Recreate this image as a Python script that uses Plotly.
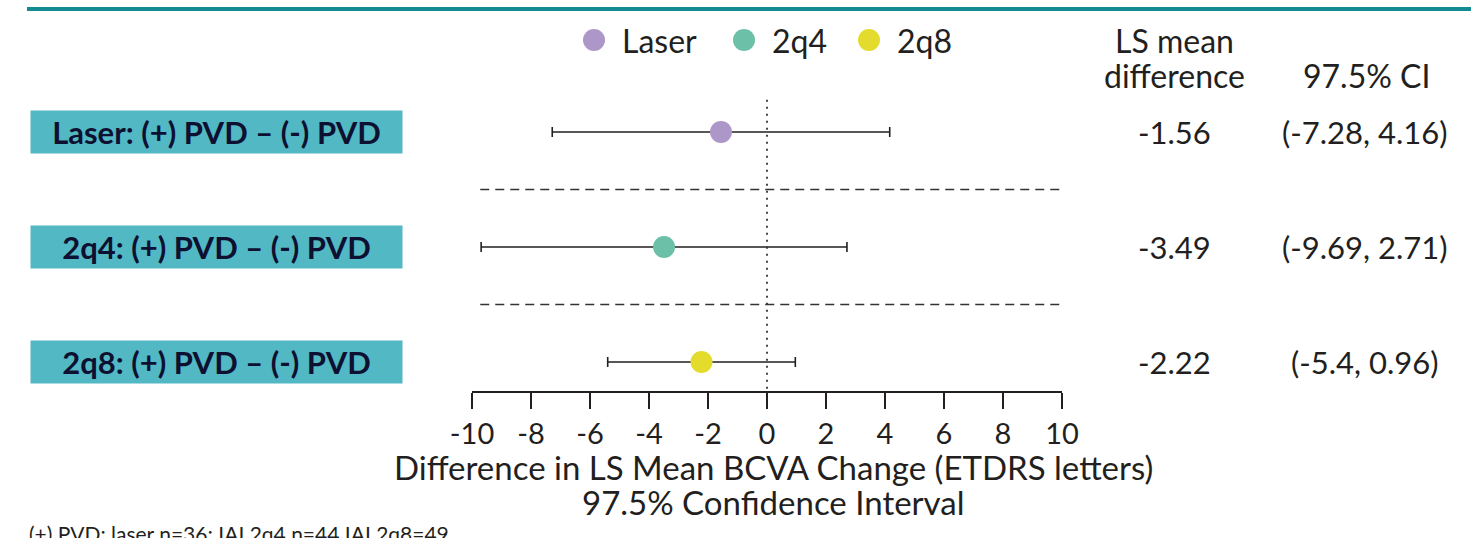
import plotly.graph_objects as go

# ---- data ----
groups = ["Laser", "2q4", "2q8"]
row_labels = ["Laser: (+) PVD – (-) PVD", "2q4: (+) PVD – (-) PVD", "2q8: (+) PVD – (-) PVD"]
ls_mean = [-1.56, -3.49, -2.22]
ci_low = [-7.28, -9.69, -5.4]
ci_high = [4.16, 2.71, 0.96]
ci_text = ["(-7.28, 4.16)", "(-9.69, 2.71)", "(-5.4, 0.96)"]
colors = ["#AD96C8", "#6CC0A8", "#E3DC2C"]
tick_vals = [-10, -8, -6, -4, -2, 0, 2, 4, 6, 8, 10]
footnote = "(+) PVD: laser n=36; IAI 2q4 n=44 IAI 2q8=49"

# ---- layout constants (pixels) ----
W, H = 1471, 538
FONT = "Lato"
TXT = "#231F20"
row_px0, row_step = 132, 115
axis_line_px = 392
legend_marker_px = [594, 744, 869]
legend_y_px = 40

rows = list(range(len(groups)))
y_top = -row_px0 / row_step
y_bot = (H - row_px0) / row_step


def py(px):
    return 1 - px / H


fig = go.Figure()
for i, g in enumerate(groups):
    fig.add_trace(go.Scatter(
        x=[ls_mean[i]], y=[rows[i]], mode="markers", name=g, showlegend=False,
        marker=dict(color=colors[i], size=22),
        error_x=dict(type="data", symmetric=False,
                     array=[ci_high[i] - ls_mean[i]],
                     arrayminus=[ls_mean[i] - ci_low[i]],
                     color="#231F20", thickness=1.6, width=5),
    ))

# custom legend markers on a full-page pixel-space axis pair
fig.add_trace(go.Scatter(
    x=legend_marker_px, y=[legend_y_px] * len(groups), mode="markers",
    marker=dict(color=colors, size=22), xaxis="x2", yaxis="y2",
    showlegend=False, hoverinfo="skip",
))

shapes = []
shapes.append(dict(type="line", xref="paper", yref="paper", x0=27 / W, x1=1, y0=py(9), y1=py(9),
                   line=dict(color="#128C90", width=4)))
for i in rows[:-1]:
    shapes.append(dict(type="line", xref="x", yref="y", x0=-9.72, x1=10, y0=i + 0.5, y1=i + 0.5,
                       line=dict(color="#333333", width=1.6, dash="9px,6px")))
shapes.append(dict(type="line", xref="x", yref="y", x0=0, x1=0, y0=-0.28,
                   y1=(axis_line_px - row_px0) / row_step,
                   line=dict(color="#333333", width=1.8, dash="2px,5px")))

annotations = []
for i in rows:
    annotations.append(dict(xref="paper", yref="y", x=30 / W, y=rows[i], xanchor="left", yanchor="middle",
                            text="<b>" + row_labels[i] + "</b>", showarrow=False,
                            bgcolor="#52B8C4", width=371, height=42, borderpad=0, align="center",
                            font=dict(family=FONT, size=31, color="#0D1030")))
    annotations.append(dict(xref="paper", yref="y", x=1174 / W, y=rows[i], xanchor="center", yanchor="middle",
                            text=f"{ls_mean[i]:.2f}", showarrow=False,
                            font=dict(family=FONT, size=31, color=TXT)))
    annotations.append(dict(xref="paper", yref="y", x=1365 / W, y=rows[i], xanchor="center", yanchor="middle",
                            text=ci_text[i], showarrow=False,
                            font=dict(family=FONT, size=31, color=TXT)))
# legend labels
for i, g in enumerate(groups):
    annotations.append(dict(xref="paper", yref="paper", x=(legend_marker_px[i] + 26) / W, y=py(legend_y_px),
                            xanchor="left", yanchor="middle", text=g, showarrow=False,
                            font=dict(family=FONT, size=32, color=TXT)))
# column headers
for txt, xpx, ypx in [("LS mean", 1174, 40), ("difference", 1174, 75), ("97.5% CI", 1366, 75)]:
    annotations.append(dict(xref="paper", yref="paper", x=xpx / W, y=py(ypx), xanchor="center", yanchor="middle",
                            text=txt, showarrow=False, font=dict(family=FONT, size=32, color=TXT)))
# axis title (two lines)
for txt, ypx in [("Difference in LS Mean BCVA Change (ETDRS letters)", 467),
                 ("97.5% Confidence Interval", 502)]:
    annotations.append(dict(xref="paper", yref="paper", x=773 / W, y=py(ypx), xanchor="center", yanchor="middle",
                            text=txt, showarrow=False, font=dict(family=FONT, size=33, color=TXT)))
# footnote
annotations.append(dict(xref="paper", yref="paper", x=27 / W, y=py(519), xanchor="left", yanchor="top",
                        text=footnote, showarrow=False,
                        font=dict(family=FONT, size=21, color=TXT)))

fig.update_layout(
    width=W, height=H, margin=dict(l=0, r=0, t=0, b=0, pad=0, autoexpand=False),
    paper_bgcolor="white", plot_bgcolor="rgba(0,0,0,0)",
    font=dict(family=FONT, color=TXT),
    showlegend=False,
    xaxis=dict(domain=[472 / W, 1062 / W], range=[-10, 10], anchor="free", position=py(axis_line_px),
               tickvals=tick_vals, ticktext=[str(v) for v in tick_vals],
               showline=True, linecolor="#231F20", linewidth=2,
               ticks="outside", ticklen=16, tickwidth=2, tickcolor="#231F20",
               tickfont=dict(family=FONT, size=29, color=TXT),
               showgrid=False, zeroline=False, fixedrange=True, automargin=False),
    yaxis=dict(domain=[0, 1], range=[y_bot, y_top], visible=False, showgrid=False, zeroline=False,
               automargin=False),
    xaxis2=dict(domain=[0, 1], range=[0, W], visible=False, anchor="y2", showgrid=False, zeroline=False),
    yaxis2=dict(domain=[0, 1], range=[H, 0], visible=False, anchor="x2", showgrid=False, zeroline=False),
    shapes=shapes, annotations=annotations,
)

fig.write_html("out.html")
